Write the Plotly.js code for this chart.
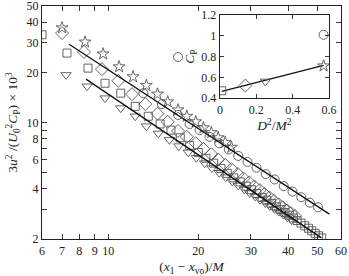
<!DOCTYPE html>
<html>
<head>
<meta charset="utf-8">
<script src="https://cdn.plot.ly/plotly-3.0.1.min.js"></script>
<style>
  html, body { margin: 0; padding: 0; background: #fff; }
  #chart { width: 349px; height: 276px; }
</style>
</head>
<body>
<div id="chart"></div>
<script>
// Normalised decay of turbulent kinetic energy behind the grids
const squareX = [6.0, 7.27, 8.55, 9.75, 11.0, 12.3, 13.6, 14.9, 16.2, 17.4, 18.7, 20.0, 21.2, 22.5, 23.8, 25.0, 26.3, 27.6, 28.9, 30.1, 31.4, 32.7, 33.9, 35.2, 36.5, 37.8, 39.0, 40.3, 41.6, 42.8, 44.1, 45.4, 46.7, 47.9, 49.2, 50.5, 51.7];
const squareY = [33.6, 26.1, 21.2, 17.2, 15.0, 12.5, 10.9, 9.8, 9.0, 8.1, 7.3, 6.6, 6.1, 5.7, 5.3, 4.95, 4.65, 4.4, 4.15, 3.95, 3.75, 3.55, 3.42, 3.27, 3.12, 3.0, 2.88, 2.78, 2.67, 2.58, 2.49, 2.40, 2.32, 2.24, 2.16, 2.09, 2.03];

const diamondX = [7.0, 8.29, 9.52, 10.8, 12.0, 13.3, 14.6, 15.8, 17.1, 18.3, 19.6, 20.8, 22.1, 23.3, 24.6, 25.8, 27.1, 28.3, 29.6, 30.8, 32.1, 33.3, 34.6, 35.8, 37.1, 38.3, 39.6, 40.8, 42.1];
const diamondY = [34.4, 26.5, 20.9, 17.8, 14.8, 12.9, 11.3, 10.1, 8.9, 8.2, 7.5, 6.95, 6.45, 6.0, 5.57, 5.25, 4.91, 4.62, 4.37, 4.13, 3.93, 3.72, 3.55, 3.38, 3.23, 3.10, 2.97, 2.86, 2.75];

const triangleX = [7.22, 8.49, 9.75, 11.0, 12.3, 13.4, 14.7, 16.0, 17.2, 18.5, 19.7, 21.0, 22.2, 23.5, 24.7, 26.0, 27.2, 28.5, 29.7, 31.0, 32.2, 33.5, 34.7, 36.0, 37.2, 38.5, 39.7, 41.0];
const triangleY = [19.3, 16.5, 14.0, 12.2, 10.9, 9.5, 8.6, 7.87, 7.22, 6.62, 6.14, 5.70, 5.33, 4.99, 4.70, 4.42, 4.19, 3.97, 3.78, 3.60, 3.44, 3.29, 3.16, 3.03, 2.92, 2.80, 2.70, 2.60];

const starX = [7.0, 8.36, 9.6, 10.86, 12.1, 13.4, 14.6, 15.8, 17.1, 18.3, 19.6, 20.8, 22.1, 23.3, 24.6, 25.8];
const starY = [37.0, 30.4, 25.8, 21.6, 18.8, 16.7, 14.8, 13.3, 11.9, 10.9, 10.1, 9.3, 8.7, 8.1, 7.6, 7.1];

const circleX = [13.1, 15.1, 17.1, 17.1, 18.7, 20.2, 21.8, 23.5, 25.3, 27.2, 29.2, 31.3, 33.6, 36.0, 38.6, 41.3, 44.2, 47.2, 50.3];
const circleY = [15.0, 12.9, 24.7, 11.1, 9.8, 9.0, 8.2, 7.5, 6.9, 6.3, 5.8, 5.35, 4.9, 4.55, 4.15, 3.85, 3.56, 3.3, 3.1];

// power-law fits (straight on log-log axes)
const fitUpperX = [7.39, 54.9];
const fitUpperY = [29.5, 2.82];
const fitLowerX = [8.42, 51.6];
const fitLowerY = [18.2, 2.03];

// inset: energy coefficient against blockage
const insetSquare = {x: [0.01], y: [0.47]};
const insetDiamond = {x: [0.14], y: [0.52]};
const insetTriangle = {x: [0.25], y: [0.56]};
const insetStar = {x: [0.57], y: [0.71]};
const insetCircle = {x: [0.57], y: [1.01]};
const insetFitX = [0.01, 0.57];
const insetFitY = [0.465, 0.715];

const xTickVals = [6, 7, 8, 9, 10, 20, 30, 40, 50, 60];
const xTickText = ['6', '7', '8', '9', '10', '20', '30', '40', '50', '60'];
const yTickVals = [2, 3, 4, 5, 6, 7, 8, 9, 10, 20, 30, 40, 50];
const yTickText = ['2', '', '4', '', '6', '', '8', '', '10', '20', '30', '40', '50'];

const markColor = '#555';
function markers(x, y, symbol, size, xa, ya) {
  return {
    x: x, y: y, type: 'scatter', mode: 'markers',
    xaxis: xa || 'x', yaxis: ya || 'y',
    marker: {symbol: symbol, size: size, color: markColor, line: {color: markColor, width: 0.9}},
    hoverinfo: 'skip', showlegend: false
  };
}
function fitLine(x, y, xa, ya) {
  return {x: x, y: y, type: 'scatter', mode: 'lines', xaxis: xa || 'x', yaxis: ya || 'y',
    line: {color: '#111', width: 1.3}, hoverinfo: 'skip', showlegend: false};
}

const data = [
  markers(squareX, squareY, 'square-open', 8),
  markers(diamondX, diamondY, 'diamond-open', 10),
  markers(triangleX, triangleY, 'triangle-down-open', 9),
  markers(starX, starY, 'star-open', 9),
  markers(circleX, circleY, 'circle-open', 9),
  fitLine(fitUpperX, fitUpperY),
  fitLine(fitLowerX, fitLowerY),
  fitLine(insetFitX, insetFitY, 'x2', 'y2'),
  markers(insetSquare.x, insetSquare.y, 'square-open', 8, 'x2', 'y2'),
  markers(insetDiamond.x, insetDiamond.y, 'diamond-open', 10, 'x2', 'y2'),
  markers(insetTriangle.x, insetTriangle.y, 'triangle-down-open', 9, 'x2', 'y2'),
  markers(insetStar.x, insetStar.y, 'star-open', 9, 'x2', 'y2'),
  markers(insetCircle.x, insetCircle.y, 'circle-open', 9, 'x2', 'y2')
];

const family = 'Liberation Serif, DejaVu Serif, serif';
const font = {family: family, size: 12, color: '#222'};
const titleFont = {family: family, size: 13.5, color: '#222'};
const axisCommon = {
  showline: true, linecolor: '#222', linewidth: 1.2, mirror: 'allticks',
  ticks: 'inside', ticklen: 5, tickwidth: 0.9, tickcolor: '#222',
  showgrid: false, zeroline: false, tickfont: font, ticklabeloverflow: 'allow'
};

const layout = {
  width: 349, height: 276,
  margin: {l: 42, r: 8, t: 6, b: 37},
  paper_bgcolor: '#fff', plot_bgcolor: '#fff',
  font: font,
  xaxis: Object.assign({}, axisCommon, {
    type: 'log', range: [Math.log10(5.999), Math.log10(60.01)],
    tickmode: 'array', tickvals: xTickVals, ticktext: xTickText,
    title: {text: '(<i>x</i><sub>1</sub> − <i>x</i><sub>vo</sub>)/<i>M</i>', font: titleFont, standoff: 7}
  }),
  yaxis: Object.assign({}, axisCommon, {
    type: 'log', range: [Math.log10(1.999), Math.log10(50.02)],
    tickmode: 'array', tickvals: yTickVals, ticktext: yTickText,
    title: {text: '3<i>u</i><sup>2</sup> /(<i>U</i><sub>0</sub><sup>2</sup><i>C</i><sub>P</sub>) × 10<sup>3</sup>', font: titleFont, standoff: 5}
  }),
  xaxis2: Object.assign({}, axisCommon, {
    domain: [0.595, 0.96], anchor: 'y2', range: [0, 0.6],
    tickvals: [0, 0.2, 0.4, 0.6], ticktext: ['0', '0.2', '0.4', '0.6'], ticklen: 4,
    title: {text: '<i>D</i><sup>2</sup>/<i>M</i><sup>2</sup>', font: titleFont, standoff: 3}
  }),
  yaxis2: Object.assign({}, axisCommon, {
    domain: [0.605, 0.961], anchor: 'x2', range: [0.4, 1.2],
    tickvals: [0.4, 0.6, 0.8, 1.0, 1.2], ticktext: ['0.4', '0.6', '0.8', '1', '1.2'], ticklen: 4,
    title: {text: '<i>C</i><sub>P</sub>', font: titleFont, standoff: 3}
  })
};

Plotly.newPlot('chart', data, layout, {staticPlot: true, displayModeBar: false});
</script>
</body>
</html>
